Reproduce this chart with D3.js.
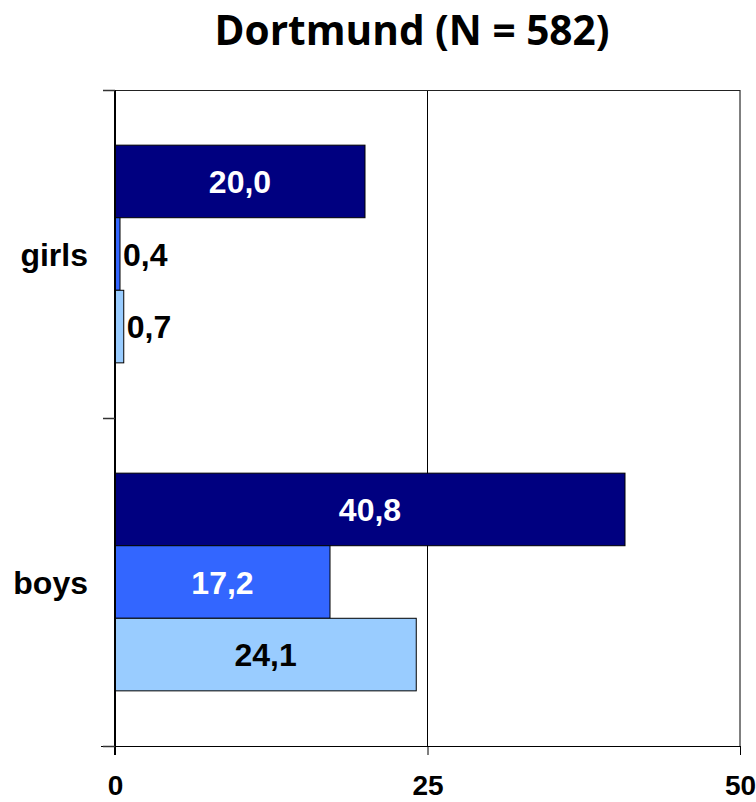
<!DOCTYPE html>
<html>
<head>
<meta charset="utf-8">
<script src="https://cdn.jsdelivr.net/npm/d3@7"></script>
<style>
  html, body { margin: 0; padding: 0; background: #fff; }
  svg { display: block; }
</style>
</head>
<body>
<svg id="chart" width="756" height="802"></svg>
<script>
// Share of pupils per group (%), three response series
const groups = ["girls", "boys"];
const seriesNames = ["s1", "s2", "s3"];
const seriesColors = ["#000080", "#3366FF", "#99CCFF"];
const labelColors = ["#ffffff", "#ffffff", "#000000"];
const values = {
  girls: [20.0, 0.4, 0.7],
  boys: [40.8, 17.2, 24.1]
};
const xTicks = [0, 25, 50];
const title = "Dortmund (N = 582)";

const svg = d3.select("#chart");
const plotLeft = 115, plotRight = 740, plotTop = 90, plotBottom = 746;
const labelFont = "'Liberation Sans', Arial, sans-serif";

const x = d3.scaleLinear().domain([0, 50]).range([plotLeft, plotRight]);
const y = d3.scaleBand().domain(groups).range([plotTop, plotBottom]);
const inner = d3.scaleBand().domain(seriesNames).range([0, y.bandwidth()]).paddingOuter(0.76).paddingInner(0);

// title
svg.append("text")
  .attr("x", 412).attr("y", 45)
  .attr("text-anchor", "middle")
  .attr("font-family", "'Open Sans', sans-serif")
  .attr("font-weight", "bold")
  .attr("font-size", 40.6)
  .attr("fill", "#000")
  .text(title);

// vertical gridlines
svg.append("g")
  .selectAll("line")
  .data(xTicks.slice(1))
  .join("line")
  .attr("x1", d => x(d)).attr("x2", d => x(d))
  .attr("y1", plotTop).attr("y2", plotBottom)
  .attr("stroke", "#000").attr("stroke-width", 1);

// top edge of the plot area
svg.append("line")
  .attr("x1", plotLeft).attr("x2", plotRight)
  .attr("y1", plotTop + 0.5).attr("y2", plotTop + 0.5)
  .attr("stroke", "#222").attr("stroke-width", 1);

// bars
const rows = [];
groups.forEach(g => values[g].forEach((v, i) => rows.push({ g, i, v })));

svg.append("g")
  .selectAll("rect")
  .data(rows)
  .join("rect")
  .attr("x", x(0))
  .attr("y", d => y(d.g) + inner(seriesNames[d.i]))
  .attr("width", d => x(d.v) - x(0))
  .attr("height", inner.bandwidth())
  .attr("fill", d => seriesColors[d.i])
  .attr("stroke", "#000")
  .attr("stroke-width", 1);

// value labels: centred in the bar, or just past its end when the bar is too short
const fmt = v => d3.format(".1f")(v).replace(".", ",");
svg.append("g")
  .selectAll("text")
  .data(rows)
  .join("text")
  .attr("x", d => d.v < 2 ? x(d.v) + 3 : (x(0) + x(d.v)) / 2)
  .attr("y", d => y(d.g) + inner(seriesNames[d.i]) + inner.bandwidth() / 2)
  .attr("dy", "0.36em")
  .attr("text-anchor", d => d.v < 2 ? "start" : "middle")
  .attr("font-family", labelFont)
  .attr("font-weight", "bold")
  .attr("font-size", 32)
  .attr("fill", d => d.v < 2 ? "#000" : labelColors[d.i])
  .text(d => fmt(d.v));

// x axis
const xAxis = svg.append("g")
  .attr("transform", `translate(0,${plotBottom})`)
  .call(d3.axisBottom(x).tickValues(xTicks).tickSize(9).tickPadding(20));
xAxis.select(".domain").attr("d", `M${plotLeft - 14},0.5H${plotRight}`).attr("stroke", "#000");
xAxis.selectAll(".tick line").attr("stroke", "#000");
xAxis.selectAll("text")
  .attr("font-family", labelFont)
  .attr("font-weight", "bold")
  .attr("font-size", 28)
  .attr("fill", "#000");

// y axis: ticks at band boundaries, labels at band centres
const yAxis = svg.append("g").attr("transform", `translate(${plotLeft},0)`);
yAxis.append("line")
  .attr("x1", 0).attr("x2", 0)
  .attr("y1", plotTop).attr("y2", plotBottom + 9)
  .attr("stroke", "#000").attr("stroke-width", 2);
const boundaries = [plotTop, y("boys"), plotBottom];
yAxis.selectAll(".tk")
  .data(boundaries)
  .join("line")
  .attr("class", "tk")
  .attr("x1", -12).attr("x2", 0)
  .attr("y1", d => d + 0.5).attr("y2", d => d + 0.5)
  .attr("stroke", "#333").attr("stroke-width", 1.5);
yAxis.selectAll(".lbl")
  .data(groups)
  .join("text")
  .attr("class", "lbl")
  .attr("x", -27)
  .attr("y", d => y(d) + y.bandwidth() / 2)
  .attr("dy", "0.36em")
  .attr("text-anchor", "end")
  .attr("font-family", labelFont)
  .attr("font-weight", "bold")
  .attr("font-size", 32)
  .attr("fill", "#000")
  .text(d => d);
</script>
</body>
</html>
